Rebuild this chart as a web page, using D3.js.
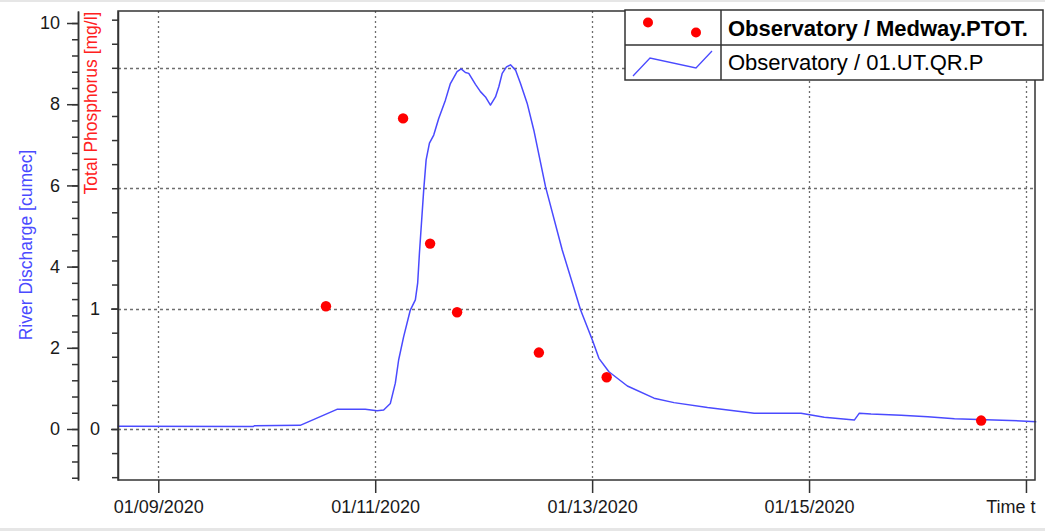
<!DOCTYPE html>
<html>
<head>
<meta charset="utf-8">
<script src="https://cdn.jsdelivr.net/npm/d3@7"></script>
<style>
  html, body { margin: 0; padding: 0; background: #fff; }
  svg { display: block; font-family: "Liberation Sans", Arial, sans-serif; }
</style>
</head>
<body>
<svg id="chart" width="1045" height="531"></svg>
<script>
// River discharge (01.UT.QR.P), cumec
const flowTimes = [
  "2020-01-08T15:00", "2020-01-09T21:00", "2020-01-09T21:15", "2020-01-10T07:24",
  "2020-01-10T15:32", "2020-01-10T21:48", "2020-01-11T00:24", "2020-01-11T01:52",
  "2020-01-11T03:21", "2020-01-11T04:27", "2020-01-11T05:11", "2020-01-11T06:17",
  "2020-01-11T07:46", "2020-01-11T08:53", "2020-01-11T09:24", "2020-01-11T09:47",
  "2020-01-11T10:44", "2020-01-11T11:16", "2020-01-11T12:00", "2020-01-11T12:57",
  "2020-01-11T14:03", "2020-01-11T15:32", "2020-01-11T16:38", "2020-01-11T18:07",
  "2020-01-11T19:01", "2020-01-11T19:58", "2020-01-11T20:42", "2020-01-11T22:11",
  "2020-01-11T23:17", "2020-01-12T00:24", "2020-01-12T01:30", "2020-01-12T02:37",
  "2020-01-12T03:21", "2020-01-12T04:06", "2020-01-12T05:03", "2020-01-12T05:56",
  "2020-01-12T07:03", "2020-01-12T08:09", "2020-01-12T09:38", "2020-01-12T11:06",
  "2020-01-12T13:41", "2020-01-12T17:23", "2020-01-12T21:27", "2020-01-13T00:03",
  "2020-01-13T01:30", "2020-01-13T03:43", "2020-01-13T07:48", "2020-01-13T13:42",
  "2020-01-13T18:07", "2020-01-14T01:32", "2020-01-14T11:52", "2020-01-14T22:13",
  "2020-01-15T03:22", "2020-01-15T10:01", "2020-01-15T11:08", "2020-01-15T13:43",
  "2020-01-15T20:22", "2020-01-16T02:17", "2020-01-16T08:11", "2020-01-16T22:58",
  "2020-01-17T02:17"
];
const flowValues = [
  0.07, 0.06, 0.08, 0.09,
  0.485, 0.485, 0.45, 0.47,
  0.63, 1.13, 1.70, 2.27,
  2.93, 3.18, 3.60, 4.33,
  5.89, 6.63, 7.04, 7.24,
  7.65, 8.10, 8.51, 8.80,
  8.87, 8.78, 8.76, 8.49,
  8.31, 8.18, 7.98, 8.18,
  8.43, 8.76, 8.92, 8.97,
  8.84, 8.51, 8.02, 7.36,
  5.97, 4.41, 2.93, 2.19,
  1.74, 1.41, 1.06, 0.76,
  0.65, 0.53, 0.39, 0.39,
  0.29, 0.22, 0.39, 0.37,
  0.34, 0.30, 0.25, 0.20,
  0.18
];

// Total phosphorus samples (Medway.PTOT.), mg/l
const tpTimes = [
  "2020-01-10T13:06", "2020-01-11T06:10", "2020-01-11T12:09", "2020-01-11T18:07",
  "2020-01-12T12:13", "2020-01-13T03:13", "2020-01-16T14:05"
];
const tpValues = [1.02, 2.58, 1.54, 0.97, 0.635, 0.43, 0.07];

// Axis ticks and labels
const timeTicks = ["2020-01-09T00:00", "2020-01-11T00:00", "2020-01-13T00:00", "2020-01-15T00:00", "2020-01-17T00:00"];
const timeTickLabels = ["01/09/2020", "01/11/2020", "01/13/2020", "01/15/2020", "Time t"];
const flowTicks = [0, 2, 4, 6, 8, 10];
const tpGridTicks = [0, 1, 2, 3];
const tpLabelledTicks = [0, 1];

const seriesNames = ["Observatory / Medway.PTOT.", "Observatory / 01.UT.QR.P"];
const flowTitle = "River Discharge [cumec]";
const tpTitle = "Total Phosphorus [mg/l]";

const parse = d3.timeParse("%Y-%m-%dT%H:%M");
const flow = flowTimes.map((t, i) => ({ t: parse(t), v: flowValues[i] }));
const tp = tpTimes.map((t, i) => ({ t: parse(t), v: tpValues[i] }));

const svg = d3.select("#chart");
const W = 1045, H = 531;
const plot = { left: 118, right: 1035, top: 11, bottom: 480 };

const x = d3.scaleTime()
  .domain([parse("2020-01-08T15:05"), parse("2020-01-17T02:00")])
  .range([plot.left, plot.right]);
const yFlow = d3.scaleLinear().domain([-1.256, 10.296]).range([plot.bottom, plot.top]);
const yTp = d3.scaleLinear().domain([-0.4236, 3.472]).range([plot.bottom, plot.top]);

const axisColor = "#333";
const textColor = "#1a1a1a";

// Window bands
svg.append("rect").attr("x", 0).attr("y", 0).attr("width", W).attr("height", 2).attr("fill", "#e6e6e6");
svg.append("rect").attr("x", 0).attr("y", 528).attr("width", W).attr("height", 3).attr("fill", "#e6e6e6");

// Grid
const grid = svg.append("g");
grid.selectAll("line.hg").data(tpGridTicks).join("line")
  .attr("x1", plot.left).attr("x2", plot.right)
  .attr("y1", d => Math.round(yTp(d)) + 0.5).attr("y2", d => Math.round(yTp(d)) + 0.5)
  .attr("stroke", "#6e6e6e").attr("stroke-width", 1.3).attr("stroke-dasharray", "3,3");
grid.selectAll("line.vg").data(timeTicks).join("line")
  .attr("x1", d => Math.round(x(parse(d))) + 0.5).attr("x2", d => Math.round(x(parse(d))) + 0.5)
  .attr("y1", plot.top).attr("y2", plot.bottom)
  .attr("stroke", "#6e6e6e").attr("stroke-width", 1.3).attr("stroke-dasharray", "2,3");

// Discharge line
const line = d3.line().x(d => x(d.t)).y(d => yFlow(d.v));
svg.append("path").datum(flow)
  .attr("d", line).attr("fill", "none")
  .attr("stroke", "#4a4aff").attr("stroke-width", 1.5).attr("stroke-linejoin", "round");

// Phosphorus points
svg.append("g").selectAll("circle").data(tp).join("circle")
  .attr("cx", d => x(d.t)).attr("cy", d => yTp(d.v)).attr("r", 5.2)
  .attr("fill", "#ff0000");

// Plot frame
svg.append("rect")
  .attr("x", plot.left).attr("y", plot.top)
  .attr("width", plot.right - plot.left).attr("height", plot.bottom - plot.top)
  .attr("fill", "none").attr("stroke", axisColor).attr("stroke-width", 1.5);

function styleAxis(g) {
  g.select(".domain").attr("stroke", axisColor).attr("stroke-width", 1.5);
  g.selectAll(".tick line").attr("stroke", axisColor).attr("stroke-width", 1.5);
  g.selectAll(".tick text").attr("fill", textColor).style("font-size", "18px")
    .style("font-family", "'Liberation Sans', Arial, sans-serif");
}

// Time axis
const xAxis = svg.append("g").attr("transform", `translate(0,${plot.bottom})`)
  .call(d3.axisBottom(x)
    .tickValues(timeTicks.map(parse))
    .tickFormat((d, i) => timeTickLabels[i])
    .tickSize(13).tickPadding(7).tickSizeOuter(0));
styleAxis(xAxis);
xAxis.select(".domain").remove();
// the closing "Time t" label sits flush with the plot's right edge
xAxis.selectAll(".tick text")
  .filter((d, i) => i === timeTicks.length - 1)
  .attr("text-anchor", "end")
  .attr("dx", plot.right - x(parse(timeTicks[timeTicks.length - 1])));

// Discharge axis (detached, left)
const flowAxisX = 78;
const flowMinor = d3.range(-1.2, 10.3, 0.4).map(v => +v.toFixed(1));
const fMinor = svg.append("g").attr("transform", `translate(${flowAxisX},0)`)
  .call(d3.axisLeft(yFlow).tickValues(flowMinor).tickFormat("").tickSize(6).tickSizeOuter(0));
styleAxis(fMinor);
const fMajor = svg.append("g").attr("transform", `translate(${flowAxisX},0)`)
  .call(d3.axisLeft(yFlow).tickValues(flowTicks).tickFormat(d3.format("d"))
    .tickSize(11).tickPadding(7).tickSizeOuter(0));
styleAxis(fMajor);

// Phosphorus axis (on plot edge)
const tpMinor = d3.range(-0.4, 3.45, 0.2).map(v => +v.toFixed(1));
const tMinor = svg.append("g").attr("transform", `translate(${plot.left},0)`)
  .call(d3.axisLeft(yTp).tickValues(tpMinor).tickFormat("").tickSize(6).tickSizeOuter(0));
styleAxis(tMinor);
const tMajor = svg.append("g").attr("transform", `translate(${plot.left},0)`)
  .call(d3.axisLeft(yTp).tickValues(tpLabelledTicks).tickFormat(d3.format("d"))
    .tickSize(7).tickPadding(11).tickSizeOuter(0));
styleAxis(tMajor);
tMajor.select(".domain").remove();

// Axis titles
svg.append("text")
  .attr("transform", `translate(26,245) rotate(-90)`)
  .attr("text-anchor", "middle").attr("dominant-baseline", "central")
  .attr("fill", "#4a4aff").style("font-size", "17.5px")
  .text(flowTitle);
svg.append("text")
  .attr("transform", `translate(91,103) rotate(-90)`)
  .attr("text-anchor", "middle").attr("dominant-baseline", "central")
  .attr("fill", "#ff2020").style("font-size", "17.5px")
  .text(tpTitle);

// Legend
const lg = { left: 625, right: 1043, top: 10, mid: 45, bottom: 80, col: 721 };
svg.append("clipPath").attr("id", "legendClip")
  .append("rect").attr("x", lg.left).attr("y", lg.top)
  .attr("width", lg.right - lg.left).attr("height", lg.bottom - lg.top);
const legend = svg.append("g");
legend.append("rect")
  .attr("x", lg.left).attr("y", lg.top)
  .attr("width", lg.right - lg.left).attr("height", lg.bottom - lg.top)
  .attr("fill", "#fff").attr("stroke", axisColor).attr("stroke-width", 1.5);
legend.append("line").attr("x1", lg.left).attr("x2", lg.right).attr("y1", lg.mid).attr("y2", lg.mid)
  .attr("stroke", axisColor).attr("stroke-width", 1.5);
legend.append("line").attr("x1", lg.col).attr("x2", lg.col).attr("y1", lg.top).attr("y2", lg.bottom)
  .attr("stroke", axisColor).attr("stroke-width", 1.5);

// Legend symbols
legend.append("circle").attr("cx", 648).attr("cy", 22.5).attr("r", 5).attr("fill", "#ff0000");
legend.append("circle").attr("cx", 696).attr("cy", 32.5).attr("r", 5).attr("fill", "#ff0000");
legend.append("polyline")
  .attr("points", "633,76 650,58 696,68 712,51")
  .attr("fill", "none").attr("stroke", "#4a4aff").attr("stroke-width", 1.3);

const lgText = legend.append("g").attr("clip-path", "url(#legendClip)");
lgText.append("text").attr("x", 728).attr("y", 28)
  .attr("dominant-baseline", "central").attr("fill", "#000")
  .style("font-size", "22px").style("font-weight", "bold")
  .text(seriesNames[0]);
lgText.append("text").attr("x", 728).attr("y", 62)
  .attr("dominant-baseline", "central").attr("fill", "#000")
  .style("font-size", "22px")
  .text(seriesNames[1]);
</script>
</body>
</html>
